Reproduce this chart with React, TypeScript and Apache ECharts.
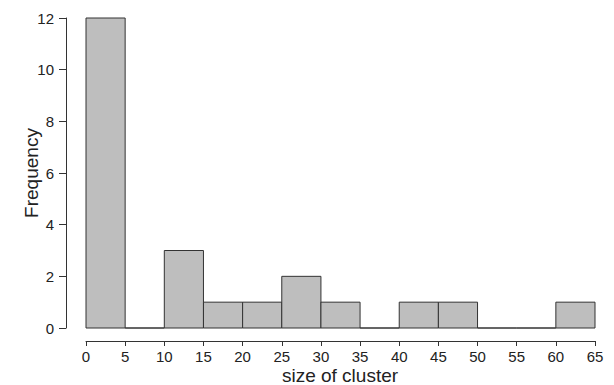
import React, { useEffect, useRef } from "react";
import * as echarts from "echarts";

const binStarts = [0, 5, 10, 15, 20, 25, 30, 35, 40, 45, 50, 55, 60];
const binWidth = 5;
const counts = [12, 0, 3, 1, 1, 2, 1, 0, 1, 1, 0, 0, 1];
const xTicks = [0, 5, 10, 15, 20, 25, 30, 35, 40, 45, 50, 55, 60, 65];
const yTicks = [0, 2, 4, 6, 8, 10, 12];
const xTitle = "size of cluster";
const yTitle = "Frequency";

export default function App() {
  const ref = useRef<HTMLDivElement>(null);
  useEffect(() => {
    if (!ref.current) return;
    const chart = echarts.init(ref.current, undefined, { renderer: "svg" });
    const data = binStarts.map((s, i) => [s, s + binWidth, counts[i]]);
    const axisColor = "#333";
    const font = "Liberation Sans";
    chart.setOption({
      animation: false,
      grid: { left: 86, right: 19, top: 18, bottom: 57, containLabel: false, outerBoundsMode: "none" },
      graphic: [
        {
          type: "text",
          x: 340,
          y: 375.5,
          style: { text: xTitle, font: `19px ${font}`, lineHeight: 19, fill: "#222", textAlign: "center", textVerticalAlign: "middle" },
        },
        {
          type: "text",
          x: 31,
          y: 173,
          rotation: Math.PI / 2,
          style: { text: yTitle, font: `19px ${font}`, lineHeight: 19, fill: "#222", textAlign: "center", textVerticalAlign: "middle" },
        },
      ],
      xAxis: {
        type: "value",
        min: xTicks[0],
        max: xTicks[xTicks.length - 1],
        interval: 5,
        offset: 13,
        axisLine: { show: true, onZero: false, lineStyle: { color: axisColor, width: 1 } },
        axisTick: { show: true, length: 5, lineStyle: { color: axisColor } },
        axisLabel: { fontFamily: font, fontSize: 15, lineHeight: 15, color: "#222", margin: 8 },
        splitLine: { show: false },
      },
      yAxis: {
        type: "value",
        min: yTicks[0],
        max: yTicks[yTicks.length - 1],
        interval: 2,
        offset: 20,
        axisLine: { show: true, onZero: false, lineStyle: { color: axisColor, width: 1 } },
        axisTick: { show: true, length: 7, lineStyle: { color: axisColor } },
        axisLabel: { fontFamily: font, fontSize: 15, lineHeight: 15, color: "#222", margin: 12 },
        splitLine: { show: false },
      },
      series: [
        {
          type: "custom",
          data,
          encode: { x: [0, 1], y: 2 },
          renderItem: (params: any, api: any) => {
            const x0 = api.value(0);
            const x1 = api.value(1);
            const c = api.value(2);
            const p0 = api.coord([x0, c]);
            const p1 = api.coord([x1, 0]);
            return {
              type: "rect",
              shape: { x: p0[0], y: p0[1], width: p1[0] - p0[0], height: p1[1] - p0[1] },
              style: { fill: "#BEBEBE", stroke: "#333", lineWidth: 1 },
            };
          },
        },
      ],
    });
    return () => chart.dispose();
  }, []);
  return <div ref={ref} style={{ width: 614, height: 385, position: "absolute", left: 0, top: 0 }} />;
}
